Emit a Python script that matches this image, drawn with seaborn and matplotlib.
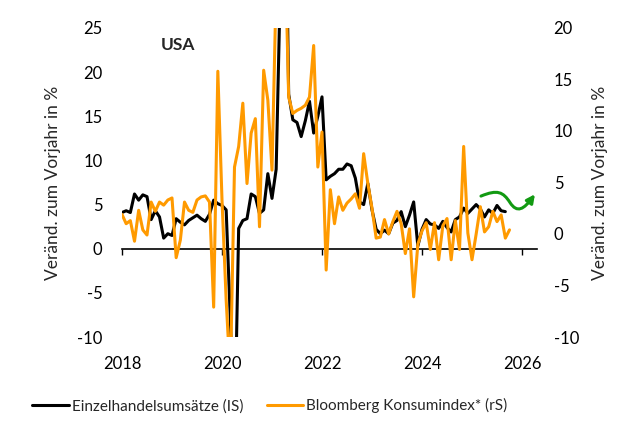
import numpy as np
import pandas as pd
import matplotlib
matplotlib.use("Agg")
import matplotlib.pyplot as plt
import seaborn as sns
from matplotlib.patches import FancyArrowPatch
from matplotlib.path import Path

# Monatswerte ab Jan 2018, Veränderung zum Vorjahr in %
einzelhandel = [
    4.1, 4.3, 4.1, 6.2, 5.5, 6.1, 5.9, 3.3, 4.3, 3.6, 1.2, 1.7,
    1.5, 3.4, 3.0, 2.7, 3.2, 3.5, 3.8, 3.4, 3.1, 3.9, 5.5, 5.1,
    4.9, 4.4, -8.0, -22.0, 2.3, 3.2, 3.4, 6.2, 5.9, 4.0, 4.4, 8.5,
    5.7, 9.0, 30.0, 50.0, 17.5, 14.6, 14.3, 12.7, 14.5, 16.7, 13.1, 15.0,
    17.2, 7.8, 8.2, 8.5, 9.0, 9.0, 9.6, 9.4, 8.0, 5.3, 5.0, 7.4,
    4.4, 2.2, 1.7, 2.1, 1.7, 2.9, 3.2, 4.2, 2.5, 3.8, 5.3, 0.3,
    2.2, 3.3, 2.8, 2.7, 2.3, 3.1, 2.4, 1.9, 3.3, 3.6, 4.6, 4.0,
    4.5, 5.0, 4.5, 3.6, 4.4, 4.0, 4.9, 4.3, 4.2,
]
konsumindex = [
    1.9, 1.0, 1.3, -0.7, 2.3, 0.4, -0.1, 3.1, 2.2, 3.1, 2.8, 3.3,
    3.5, -2.3, -0.6, 3.1, 2.3, 2.1, 3.3, 3.6, 3.7, 3.1, -7.1, 15.8,
    3.3, -6.4, -14.0, 6.5, 8.5, 12.7, 4.9, 9.8, 11.2, 0.7, 15.9, 13.0,
    6.2, 24.0, 40.0, 30.0, 13.3, 11.7, 12.0, 12.2, 12.5, 13.3, 18.3, 6.5,
    9.9, -3.5, 4.3, 1.0, 3.6, 2.3, 3.0, 3.4, 3.9, 2.5, 7.8, 4.9,
    2.5, -0.4, -0.3, 1.4, 0.0, 1.2, 2.2, 1.0, -1.9, 0.5, -6.1, -1.0,
    0.3, 1.1, -1.5, 1.1, -2.5, 0.8, 1.5, -2.5, 1.3, -1.5, 8.5, 0.1,
    -2.5, 0.0, 2.65, 0.2, 0.7, 2.2, 1.2, 1.85, -0.4, 0.4,
]
jahre = [2018, 2020, 2022, 2024, 2026]

def zeitachse(n):
    d = pd.date_range("2018-01-01", periods=n, freq="MS")
    return d.year + (d.month - 1) / 12

df_eh = pd.DataFrame({"jahr": zeitachse(len(einzelhandel)), "wert": einzelhandel})
df_bb = pd.DataFrame({"jahr": zeitachse(len(konsumindex)), "wert": konsumindex})

sns.set_theme(style="white")
plt.rcParams["font.family"] = ["Lato", "DejaVu Sans"]
plt.rcParams["axes.unicode_minus"] = False

fig = plt.figure(figsize=(6.25, 4.34), dpi=100)
ax = fig.add_axes([0.1952, 0.2235, 0.664, 0.712])
ax2 = ax.twinx()

sns.lineplot(data=df_eh, x="jahr", y="wert", ax=ax, color="black", lw=2.2,
             label="Einzelhandelsumsätze (IS)", legend=False)
sns.lineplot(data=df_bb, x="jahr", y="wert", ax=ax2, color="#ff9a00", lw=2.2,
             label="Bloomberg Konsumindex* (rS)", legend=False)

ax.set_xlim(2018, 2026.3)
ax.set_ylim(-10, 25)
ax2.set_ylim(-10, 20)
ax.set_yticks(np.arange(-10, 26, 5))
ax2.set_yticks(np.arange(-10, 21, 5))
ax.set_xticks(jahre)

for a in (ax, ax2):
    for s in a.spines.values():
        s.set_visible(False)
ax.tick_params(axis="x", length=0, pad=14, labelsize=12, colors="black")
ax.tick_params(axis="y", length=0, pad=14, labelsize=12, colors="black")
ax2.tick_params(axis="y", length=0, pad=12, labelsize=12, colors="black")

ax.set_xlabel("")
ax.set_ylabel("Veränd. zum Vorjahr in %", fontsize=12.5, labelpad=12)
ax2.set_ylabel("Veränd. zum Vorjahr in %", fontsize=12.5, labelpad=9)

# Nulllinie mit Jahres-Ticks
null = ax.secondary_xaxis(10 / 35)
null.set_xticks(jahre)
null.tick_params(axis="x", direction="out", length=4.5, width=1, labelbottom=False, colors="black")
null.spines["bottom"].set_linewidth(1.2)
null.spines["bottom"].set_color("black")

ax.text(0.135, 0.945, "USA", transform=ax.transAxes, ha="center", va="center",
        fontsize=12.5, fontweight="bold")

# grüner Pfeil (Annotation)
pfad = Path([(0.865, 0.456), (0.905, 0.478), (0.918, 0.47), (0.935, 0.435),
             (0.952, 0.400), (0.968, 0.412), (0.995, 0.462)],
            [Path.MOVETO, Path.CURVE4, Path.CURVE4, Path.CURVE4,
             Path.CURVE4, Path.CURVE4, Path.CURVE4])
pfeil = FancyArrowPatch(path=pfad, arrowstyle="-|>", mutation_scale=12, lw=2.2,
                        color="#129a12", transform=ax.transAxes, clip_on=False)
ax.add_patch(pfeil)

h1, l1 = ax.get_legend_handles_labels()
h2, l2 = ax2.get_legend_handles_labels()
fig.legend(h1 + h2, l1 + l2, loc="center", bbox_to_anchor=(0.432, 0.065), ncol=2,
           frameon=False, fontsize=11, handlelength=2.4, handletextpad=0.2,
           columnspacing=1.5)

fig.savefig("out.png", dpi=100)
